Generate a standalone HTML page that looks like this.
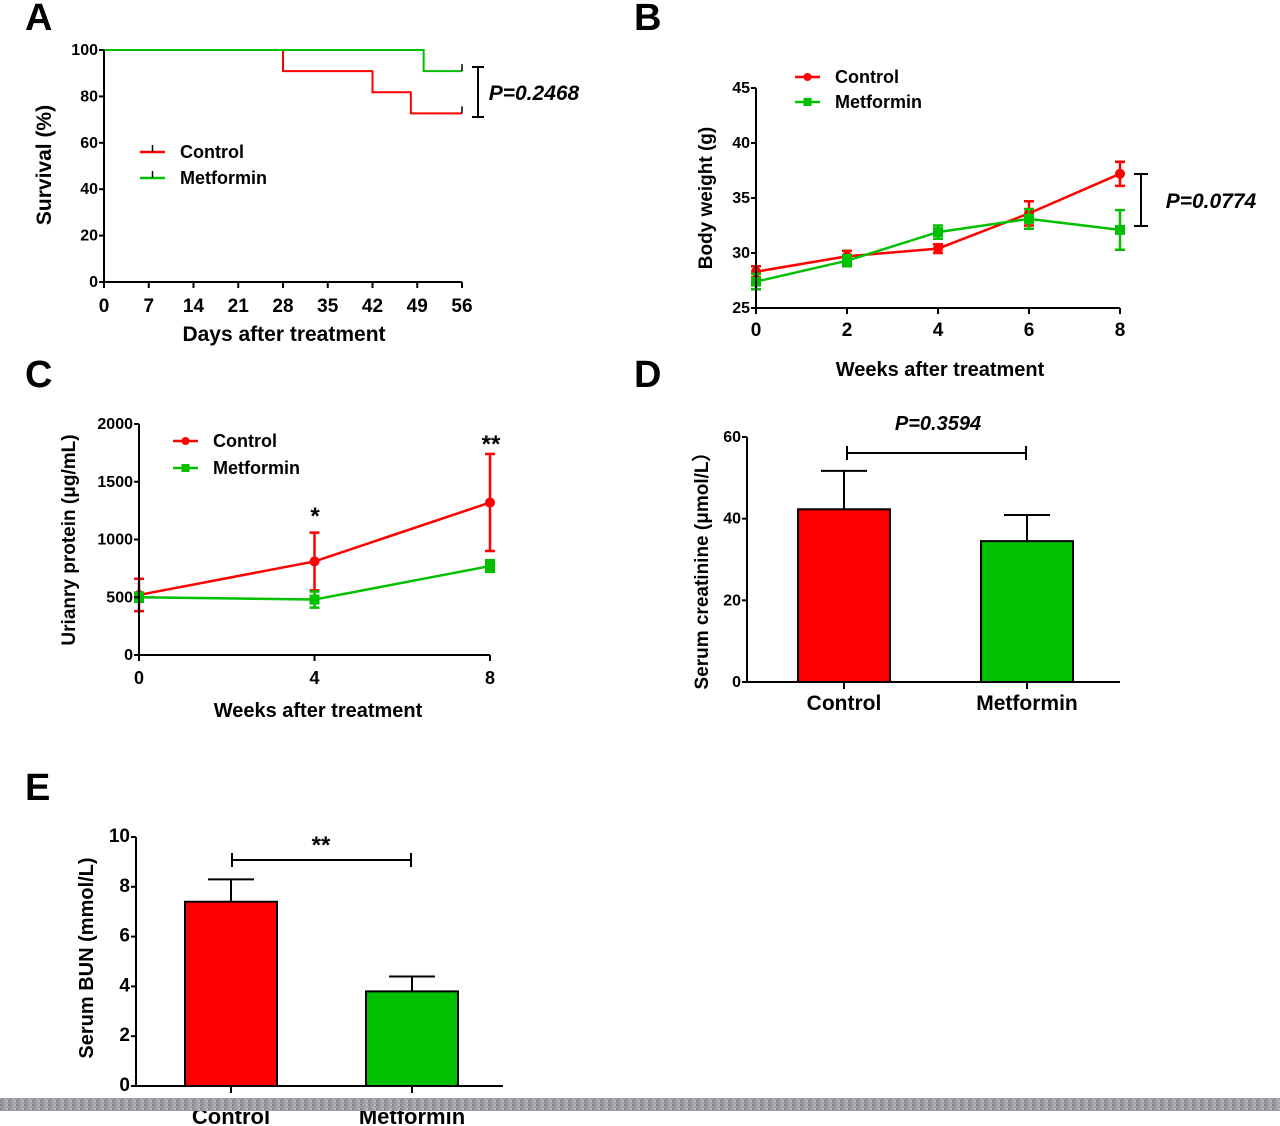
<!DOCTYPE html>
<html><head><meta charset="utf-8"><style>
body{margin:0;background:#fff;}
svg{display:block;font-family:"Liberation Sans",sans-serif;}
text{font-weight:bold;}
</style></head><body>
<svg id="fig" width="1280" height="1126" viewBox="0 0 1280 1126" xmlns="http://www.w3.org/2000/svg">
<defs>
<pattern id="noise" width="8" height="4" patternUnits="userSpaceOnUse">
<rect width="8" height="4" fill="#a09ca4"/>
<rect x="0" y="0" width="2" height="2" fill="#7a8a9a"/><rect x="4" y="2" width="2" height="2" fill="#b8a8b0"/>
<rect x="2" y="2" width="2" height="2" fill="#8c9c88"/><rect x="6" y="0" width="2" height="2" fill="#c0b4c8"/>
</pattern>
</defs>
<g id="root"></g>
<rect x="0" y="1098" width="1280" height="13" fill="url(#noise)"/>
</svg>
<script>
// Panel A survival
const aDays=[0,7,14,21,28,35,42,49,56];
const aCtrlT=[0,28,42,48,56];
const aCtrlS=[100,90.9,81.8,72.7,72.7];
const aMetT=[0,50,56];
const aMetS=[100,90.9,90.9];
const aYTicks=[0,20,40,60,80,100];
// Panel B body weight
const bWeeks=[0,2,4,6,8];
const bCtrl=[28.3,29.7,30.4,33.6,37.2];
const bCtrlErr=[0.5,0.5,0.4,1.1,1.1];
const bMet=[27.4,29.3,31.9,33.1,32.1];
const bMetErr=[0.7,0.5,0.6,0.9,1.8];
const bYTicks=[25,30,35,40,45];
// Panel C urinary protein
const cWeeks=[0,4,8];
const cCtrl=[520,810,1320];
const cCtrlErr=[140,250,420];
const cMet=[500,480,770];
const cMetErr=[40,70,50];
const cYTicks=[0,500,1000,1500,2000];
// Panel D creatinine
const dGroups=["Control","Metformin"];
const dVals=[42.3,34.5];
const dErr=[9.4,6.4];
const dYTicks=[0,20,40,60];
// Panel E BUN
const eGroups=["Control","Metformin"];
const eVals=[7.4,3.8];
const eErr=[0.9,0.6];
const eYTicks=[0,2,4,6,8,10];

const NS="http://www.w3.org/2000/svg";
const root=document.getElementById('root');
function el(tag,attrs,parent,txt){const e=document.createElementNS(NS,tag);for(const k in attrs)e.setAttribute(k,attrs[k]);if(txt!==undefined)e.textContent=txt;(parent||root).appendChild(e);return e;}
function lin(d0,d1,r0,r1){return v=>r0+(v-d0)/(d1-d0)*(r1-r0);}
const RED="#ff0000",GRN="#00c000";

function axes(g,x0,x1,y0,y1,xs,ys,xt,yt,yfs,xfs,xlabY){
  let a=el('path',{d:`M${x0} ${y1}V${y0}H${x1}`,stroke:'#000','stroke-width':2,fill:'none'},g);
  
  yt.forEach(v=>{const y=ys(v);el('line',{x1:x0-5,x2:x0,y1:y,y2:y,stroke:'#000','stroke-width':2},g);
    const t=el('text',{x:x0-6,y:y+5,'text-anchor':'end','font-size':yfs},g,v);
    });
  if(xt) xt.forEach(v=>{const x=xs(v);el('line',{x1:x,x2:x,y1:y0,y2:y0+6,stroke:'#000','stroke-width':2},g);
    const t=el('text',{x:x,y:xlabY,'text-anchor':'middle','font-size':xfs},g,v);
    });
}
function label(x,y,txt,fs,rot,name,italic){const t=el('text',{x:x,y:y,'text-anchor':'middle','font-size':fs,transform:rot?`rotate(-90 ${x} ${y})`:'', 'font-style':italic?'italic':'normal'},root,txt);
  return t;}
function panelLetter(x,y,l){const t=el('text',{x:x,y:y,'font-size':38,'font-weight':'normal'},root,l);
  }
function errLine(g,xs,ys,X,V,E,color,marker,name){
  let d='';X.forEach((x,i)=>{d+=(i?'L':'M')+xs(x)+' '+ys(V[i]);});
  const p=el('path',{d:d,stroke:color,'stroke-width':2.5,fill:'none'},g);
  
  X.forEach((x,i)=>{const cx=xs(x),lo=ys(V[i]-E[i]),hi=ys(V[i]+E[i]);
    el('path',{d:`M${cx} ${lo}V${hi}M${cx-5} ${lo}h10M${cx-5} ${hi}h10`,stroke:color,'stroke-width':2.5,fill:'none'},g);
    let m;
    if(marker==='c') m=el('circle',{cx:cx,cy:ys(V[i]),r:5,fill:color},g);
    else m=el('rect',{x:cx-5,y:ys(V[i])-5,width:10,height:10,fill:color},g);
    });
}
function legend(x,y,color,marker,txt,fs){
  const g=el('g',{},root);
  el('line',{x1:x,x2:x+25,y1:y,y2:y,stroke:color,'stroke-width':2.5},g);
  if(marker==='c') el('circle',{cx:x+12.5,cy:y,r:4,fill:color},g);
  else if(marker==='s') el('rect',{x:x+8.5,y:y-4,width:8,height:8,fill:color},g);
  else el('line',{x1:x+12.5,x2:x+12.5,y1:y-7,y2:y,stroke:'#000','stroke-width':1.5},g);
  el('text',{x:x+40,y:y+6,'font-size':fs},g,txt);
}

// ---- Panel A
panelLetter(25,30,'A');
{const g=el('g',{},root);
 const xs=lin(0,56,104,462),ys=lin(0,100,282,50);
 function step(T,S,color,name){let d=`M${xs(T[0])} ${ys(S[0])}`;for(let i=1;i<T.length;i++){d+=`H${xs(T[i])}V${ys(S[i])}`;}
  const p=el('path',{d:d,stroke:color,'stroke-width':2,fill:'none'},g);
  const xe=xs(T[T.length-1]);el('line',{x1:xe,x2:xe,y1:ys(S[S.length-1])-7,y2:ys(S[S.length-1]),stroke:'#000','stroke-width':1.5},g);}
 step(aCtrlT,aCtrlS,RED,'control-survival-curve');
 step(aMetT,aMetS,GRN,'metformin-survival-curve');
 axes(g,104,462,282,50,xs,ys,aDays,aYTicks,16,19,312);
 el('path',{d:`M478 67V117M472 67h12M472 117h12`,stroke:'#000','stroke-width':2,fill:'none'},g);
}
label(284,341,'Days after treatment',21,false,'x-axis-title-a');
label(51,165,'Survival (%)',21,true,'y-axis-title-a');
label(534,100,'P=0.2468',21,false,'p-value-a',true);
legend(140,152,RED,'t','Control',18);
legend(140,178,GRN,'t','Metformin',18);

// ---- Panel B
panelLetter(634,30,'B');
{const g=el('g',{},root);
 const xs=lin(0,8,756,1120),ys=lin(25,45,308,88);
 errLine(g,xs,ys,bWeeks,bCtrl,bCtrlErr,RED,'c','control');
 errLine(g,xs,ys,bWeeks,bMet,bMetErr,GRN,'s','metformin');
 axes(g,756,1120,308,88,xs,ys,bWeeks,bYTicks,16,19,336);
 el('path',{d:`M1141 174V226M1134 174h14M1134 226h14`,stroke:'#000','stroke-width':2,fill:'none'},g);
}
label(940,376,'Weeks after treatment',20,false,'x-axis-title-b');
label(712,198,'Body weight (g)',19,true,'y-axis-title-b');
label(1211,208,'P=0.0774',21,false,'p-value-b',true);
legend(795,77,RED,'c','Control',18);
legend(795,102,GRN,'s','Metformin',18);

// ---- Panel C
panelLetter(25,387,'C');
{const g=el('g',{},root);
 const xs=lin(0,8,139,490),ys=lin(0,2000,655,424);
 errLine(g,xs,ys,cWeeks,cCtrl,cCtrlErr,RED,'c','control');
 errLine(g,xs,ys,cWeeks,cMet,cMetErr,GRN,'s','metformin');
 axes(g,139,490,655,424,xs,ys,cWeeks,cYTicks,16,18,684);
}
label(318,717,'Weeks after treatment',20,false,'x-axis-title-c');
label(75,540,'Urianry protein (μg/mL)',19,true,'y-axis-title-c');
label(315,524,'*',24,false,'significance-star-4wk');
label(491,452,'**',24,false,'significance-star-8wk');
legend(173,441,RED,'c','Control',18);
legend(173,468,GRN,'s','Metformin',18);

// ---- Bar panels
function bars(x0,x1,y0,ys,centers,vals,errs,ticks,yfs,name){
  const g=el('g',{},root);
  const cols=[RED,GRN];
  vals.forEach((v,i)=>{const cx=centers[i],top=ys(v),et=ys(v+errs[i]);
    el('line',{x1:cx,x2:cx,y1:top,y2:et,stroke:'#000','stroke-width':2},g);
    el('line',{x1:cx-23,x2:cx+23,y1:et,y2:et,stroke:'#000','stroke-width':2},g);
    const r=el('rect',{x:cx-46,y:top,width:92,height:y0-top,fill:cols[i],stroke:'#000','stroke-width':2},g);
    
    el('line',{x1:cx,x2:cx,y1:y0,y2:y0+7,stroke:'#000','stroke-width':2},g);});
  axes(g,x0,x1,y0,ys(ticks[ticks.length-1]),null,ys,null,ticks,yfs,0,0);
  return g;
}
panelLetter(634,387,'D');
{const ys=lin(0,60,682,437);const c=[844,1027];
 const g=bars(747,1120,682,ys,c,dVals,dErr,dYTicks,16,'creatinine-chart');
 el('path',{d:`M847 446V460M847 453H1026M1026 446V460`,stroke:'#000','stroke-width':2,fill:'none'},g);
 dGroups.forEach((n,i)=>label(c[i],710,n,21,false,'x-tick-label'));
}
label(708,566,'Serum creatinine (μmol/L）',19,true,'y-axis-title-d');
label(938,430,'P=0.3594',20,false,'p-value-d',true);

panelLetter(25,800,'E');
{const ys=lin(0,10,1086,837);const c=[231,412];
 const g=bars(136,503,1086,ys,c,eVals,eErr,eYTicks,19,'bun-chart');
 el('path',{d:`M232 853V867M232 860H411M411 853V867`,stroke:'#000','stroke-width':2,fill:'none'},g);
 eGroups.forEach((n,i)=>label(c[i],1124,n,22,false,'x-tick-label'));
}
label(93,958,'Serum BUN (mmol/L)',20,true,'y-axis-title-e');
label(321,853,'**',24,false,'significance-star-bun');
</script>
</body></html>
